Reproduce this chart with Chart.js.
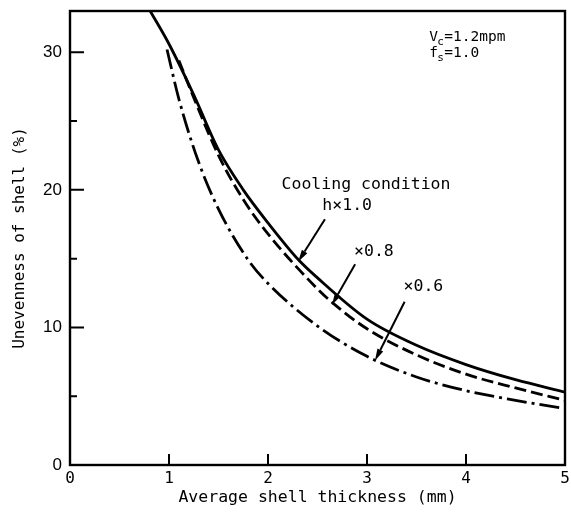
<!DOCTYPE html>
<html>
<head>
<meta charset="utf-8">
<script src="https://cdn.jsdelivr.net/npm/chart.js@4.4.1/dist/chart.umd.min.js"></script>
<style>
  body { margin: 0; background: #fff; }
  #wrap { width: 571px; height: 516px; }
</style>
</head>
<body>
<div id="wrap"><canvas id="my-chart"></canvas></div>
<script>
// values
var hx10X = [0.81, 1.0, 1.25, 1.5, 1.75, 2.0, 2.31, 2.5, 3.0, 3.5, 4.0, 4.5, 5.0];
var hx10Y = [33.0, 30.6, 26.9, 22.9, 20.0, 17.6, 14.9, 13.6, 10.6, 8.7, 7.3, 6.2, 5.3];

var hx08X = [1.1, 1.25, 1.5, 1.75, 2.0, 2.5, 2.65, 3.0, 3.5, 4.0, 4.5, 5.0];
var hx08Y = [29.4, 26.7, 22.5, 19.3, 16.8, 12.8, 11.8, 9.9, 8.0, 6.6, 5.6, 4.7];

var hx06X = [0.98, 1.1, 1.29, 1.5, 1.8, 2.0, 2.5, 3.0, 3.5, 4.0, 4.5, 5.0];
var hx06Y = [30.2, 26.6, 22.2, 18.6, 14.9, 13.2, 10.1, 7.9, 6.4, 5.4, 4.7, 4.1];

var xTicks = [0, 1, 2, 3, 4, 5];
var yTicks = [0, 10, 20, 30];
var yMinorTicks = [5, 15, 25];

var monoFont = '"DejaVu Sans Mono", monospace';

function pts(xs, ys) {
    return xs.map(function(x, i) { return { x: x, y: ys[i] }; });
}

// inward tick marks and the frame round the plot
var frameTicks = {
    id: 'frameTicks',
    afterDraw: function(chart) {
        var ctx = chart.ctx;
        var a = chart.chartArea;
        var xs = chart.scales.x, ys = chart.scales.y;
        ctx.save();
        ctx.strokeStyle = '#000';
        ctx.lineWidth = 2.4;
        ctx.strokeRect(a.left, a.top, a.right - a.left, a.bottom - a.top);
        ctx.lineWidth = 2;
        ctx.beginPath();
        yTicks.forEach(function(v) {
            var p = ys.getPixelForValue(v);
            if (v === 0) return;
            ctx.moveTo(a.left, p); ctx.lineTo(a.left + 14, p);
        });
        yMinorTicks.forEach(function(v) {
            var p = ys.getPixelForValue(v);
            ctx.moveTo(a.left, p); ctx.lineTo(a.left + 7, p);
        });
        xTicks.forEach(function(v) {
            if (v === 0 || v === 5) return;
            var p = xs.getPixelForValue(v);
            ctx.moveTo(p, a.bottom); ctx.lineTo(p, a.bottom - 11);
        });
        ctx.stroke();
        ctx.restore();
    }
};

// labels and arrows, placed in data units
var notes = {
    id: 'notes',
    afterDraw: function(chart) {
        var ctx = chart.ctx;
        var xs = chart.scales.x, ys = chart.scales.y;
        function X(v) { return xs.getPixelForValue(v); }
        function Y(v) { return ys.getPixelForValue(v); }
        ctx.save();
        ctx.fillStyle = '#000';
        ctx.strokeStyle = '#000';
        ctx.font = '16.5px ' + monoFont;
        ctx.textAlign = 'center';
        ctx.textBaseline = 'middle';
        ctx.fillText('Cooling condition', X(2.99), Y(20.35));
        ctx.fillText('h\u00d71.0', X(2.80), Y(18.82));
        ctx.fillText('\u00d70.8', X(3.07), Y(15.48));
        ctx.fillText('\u00d70.6', X(3.57), Y(12.94));

        // V_c and f_s
        ctx.textAlign = 'left';
        ctx.textBaseline = 'alphabetic';
        var x0 = X(3.63);
        ctx.font = '14.5px ' + monoFont;
        ctx.fillText('V', x0, Y(30.81));
        ctx.fillText('f', x0, Y(29.65));
        ctx.font = '11px ' + monoFont;
        ctx.fillText('c', x0 + 8, Y(30.81) + 4);
        ctx.fillText('s', x0 + 8, Y(29.65) + 4);
        ctx.font = '14.5px ' + monoFont;
        ctx.fillText('=1.2mpm', x0 + 15, Y(30.81));
        ctx.fillText('=1.0', x0 + 15, Y(29.65));

        var arrows = [
            [2.575, 17.86, 2.305, 14.78],
            [2.88, 14.6, 2.645, 11.63],
            [3.38, 11.87, 3.08, 7.58]
        ];
        ctx.lineWidth = 2;
        arrows.forEach(function(ar) {
            var x1 = X(ar[0]), y1 = Y(ar[1]), x2 = X(ar[2]), y2 = Y(ar[3]);
            var ang = Math.atan2(y2 - y1, x2 - x1);
            var len = 12, w = 3.2;
            var bx = x2 - len * Math.cos(ang), by = y2 - len * Math.sin(ang);
            ctx.beginPath();
            ctx.moveTo(x1, y1); ctx.lineTo(bx, by);
            ctx.stroke();
            ctx.beginPath();
            ctx.moveTo(x2, y2);
            ctx.lineTo(bx + w * Math.sin(ang), by - w * Math.cos(ang));
            ctx.lineTo(bx - w * Math.sin(ang), by + w * Math.cos(ang));
            ctx.closePath();
            ctx.fill();
        });
        ctx.restore();
    }
};

function lineSet(label, data, dash) {
    return {
        label: label,
        data: data,
        borderColor: '#000',
        borderWidth: 2.8,
        borderDash: dash,
        pointRadius: 0,
        fill: false,
        cubicInterpolationMode: 'monotone'
    };
}

var ctx = document.getElementById('my-chart').getContext('2d');
var chart = new Chart(ctx, {
    type: 'line',
    data: {
        datasets: [
            lineSet('h\u00d71.0', pts(hx10X, hx10Y), []),
            lineSet('\u00d70.8', pts(hx08X, hx08Y), [12, 5]),
            lineSet('\u00d70.6', pts(hx06X, hx06Y), [20, 5, 3, 5])
        ]
    },
    options: {
        responsive: true,
        maintainAspectRatio: false,
        animation: false,
        layout: { padding: { top: 11, right: 6, left: 0, bottom: 0 } },
        plugins: { legend: { display: false }, tooltip: { enabled: false } },
        scales: {
            x: {
                type: 'linear',
                min: 0, max: 5,
                afterBuildTicks: function(scale) {
                    scale.ticks = xTicks.map(function(v) { return { value: v }; });
                },
                afterFit: function(scale) {
                    scale.height = 51;
                    scale.paddingLeft = 0; scale.paddingRight = 0;
                },
                grid: { display: false, drawTicks: false },
                border: { display: false },
                ticks: { padding: 4, color: '#000', maxRotation: 0, font: { family: monoFont, size: 16 } },
                title: {
                    display: true,
                    text: 'Average shell thickness (mm)',
                    color: '#000',
                    font: { family: monoFont, size: 16.5 },
                    padding: { top: 0, bottom: 8 }
                }
            },
            y: {
                type: 'linear',
                min: 0, max: 33,
                afterBuildTicks: function(scale) {
                    scale.ticks = yTicks.map(function(v) { return { value: v }; });
                },
                afterFit: function(scale) {
                    scale.width = 70;
                    scale.paddingTop = 0; scale.paddingBottom = 0;
                },
                grid: { display: false, drawTicks: false },
                border: { display: false },
                ticks: { padding: 8, color: '#000', font: { family: '"Liberation Sans", sans-serif', size: 17 } },
                title: {
                    display: true,
                    text: 'Unevenness of shell (%)',
                    color: '#000',
                    font: { family: monoFont, size: 16 },
                    padding: { top: 10, bottom: 10 }
                }
            }
        }
    },
    plugins: [frameTicks, notes]
});
</script>
</body>
</html>
